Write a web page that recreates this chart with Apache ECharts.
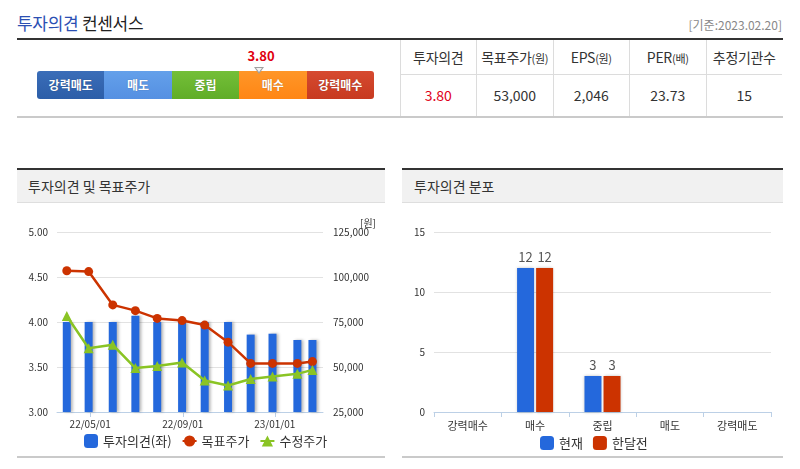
<!DOCTYPE html>
<html><head><meta charset="utf-8">
<script src="https://cdn.jsdelivr.net/npm/echarts@6/dist/echarts.min.js"></script>
<style>
body{margin:0;width:800px;height:469px;position:relative;background:#fff;font-family:"Noto Sans CJK KR","Noto Sans",sans-serif;overflow:hidden;color:#333}
.abs{position:absolute}
#title{left:17px;top:10px;font-size:17px;line-height:26px;color:#222;letter-spacing:-0.3px}
#title .b{color:#2b4fb3}
#basis{right:18px;top:16px;font-size:12px;color:#888}
#topline{left:17px;top:38px;width:766px;height:2px;background:#333}
#botline{left:17px;top:116px;width:766px;height:2px;background:#cacaca}
.seg{position:absolute;top:71px;height:28px;line-height:28px;text-align:center;color:#fff;font-size:12px;font-weight:bold;text-shadow:0 0 1px rgba(0,0,0,.35)}
#score{font-size:13px;font-weight:bold;color:#e00010;top:46px}
#tri{top:67px;width:0;height:0;border-left:5px solid transparent;border-right:5px solid transparent;border-top:7px solid #a0a0a0}
#tri2{top:68px;width:0;height:0;border-left:3px solid transparent;border-right:3px solid transparent;border-top:4px solid #f4f4f4}
.cell{position:absolute;text-align:center;border-left:1px solid #dcdcdc;box-sizing:border-box}
.hd{top:40px;height:35px;line-height:35px;font-size:14px;color:#333;border-bottom:1px solid #dcdcdc;letter-spacing:-0.3px}
.hd small{font-size:11px}
.vl{top:75px;height:41px;line-height:41px;font-size:14px;color:#333}
.phead{top:168px;height:35px;background:#f1f1f1;border-top:2px solid #333;border-bottom:1px solid #dedede;box-sizing:border-box;font-size:14px;line-height:33px;color:#333;padding-left:11px}
.pbot{top:456px;height:2px;background:#cacaca}
</style></head>
<body>
<div id="title" class="abs"><span class="b">투자의견</span> 컨센서스</div>
<div id="basis" class="abs">[기준:2023.02.20]</div>
<div id="topline" class="abs"></div>
<div id="bar"></div>
<div id="table"></div>
<div id="botline" class="abs"></div>

<div class="abs phead" style="left:17px;width:368px">투자의견 및 목표주가</div>
<div class="abs phead" style="left:402px;width:381px;padding-left:12px">투자의견 분포</div>
<div id="c1" class="abs" style="left:17px;top:203px;width:368px;height:253px"></div>
<div id="c2" class="abs" style="left:402px;top:203px;width:381px;height:253px"></div>
<div class="abs pbot" style="left:17px;width:368px"></div>
<div class="abs pbot" style="left:402px;width:381px"></div>

<script>
// ---- data ----
const opinionLabels = ['강력매도','매도','중립','매수','강력매수'];
const opinionColors = [['#3a6db8','#2c5ea8'],['#64a0ea','#5590e2'],['#74bf38','#60ad28'],['#ff9628','#ff8614'],['#d64a30','#c73a20']];
const consensusScore = 3.80;
const tableHeaders = ['투자의견','목표주가<small>(원)</small>','EPS<small>(원)</small>','PER<small>(배)</small>','추정기관수'];
const tableValues = ['3.80','53,000','2,046','23.73','15'];

const dates = ['2022-03-31','2022-04-29','2022-05-31','2022-06-30','2022-07-29','2022-08-31','2022-09-30','2022-10-31','2022-11-30','2022-12-29','2023-01-31','2023-02-20'];
const opinionScores = [4.00,4.00,4.00,4.07,4.00,4.00,4.00,4.00,3.86,3.87,3.80,3.80];
const targetPrices = [103500,103000,84500,81300,77000,75800,73300,63800,52000,52000,52000,53000];
const adjPrices = [78300,60400,62300,49400,50600,52500,42500,39700,43300,44700,46200,48400];
const xTickDates = ['2022-05-01','2022-09-01','2023-01-01'];
const xRange = ['2022-03-18','2023-03-06'];

const distCategories = ['강력매수','매수','중립','매도','강력매도'];
const distCurrent = [0,12,3,0,0];
const distMonthAgo = [0,12,3,0,0];

// ---- consensus bar (HTML) ----
const barLeft = 37, segW = 67.4;
let h = '';
opinionLabels.forEach((l,i)=>{
  const r = i===0 ? 'border-radius:3px 0 0 3px;' : (i===4 ? 'border-radius:0 3px 3px 0;' : '');
  h += `<div class="seg" style="left:${barLeft+i*segW}px;width:${segW}px;background:linear-gradient(${opinionColors[i][0]},${opinionColors[i][1]});${r}">${l}</div>`;
});
const mx = barLeft + segW*(consensusScore-1) + segW/2;
h += `<div id="score" class="abs" style="left:${mx-12}px">${consensusScore.toFixed(2)}</div>`;
h += `<div id="tri" class="abs" style="left:${mx-5}px"></div><div id="tri2" class="abs" style="left:${mx-3}px"></div>`;
document.getElementById('bar').innerHTML = h;

let t = '';
const colW = 76.5, tLeft = 399.5;
tableHeaders.forEach((hd,i)=>{
  t += `<div class="cell hd" style="left:${tLeft+i*colW}px;width:${colW}px">${hd}</div>`;
  t += `<div class="cell vl" style="left:${tLeft+i*colW}px;width:${colW}px;${i===0?'color:#e0001b':''}">${tableValues[i]}</div>`;
});
document.getElementById('table').innerHTML = t;

// ---- charts ----
const FF = '"Noto Sans CJK KR","Noto Sans",sans-serif';
const axisBlue = '#bcd0e6';
const ts = d => Date.UTC(+d.slice(0,4), +d.slice(5,7)-1, +d.slice(8,10));
const tickVals = xTickDates.map(ts);
const fmtDate = v => {const d=new Date(v);const p=n=>String(n).padStart(2,'0');return p(d.getUTCFullYear()%100)+'/'+p(d.getUTCMonth()+1)+'/'+p(d.getUTCDate());};

const c1 = echarts.init(document.getElementById('c1'));
c1.setOption({
  animation:false,
  textStyle:{fontFamily:FF},
  title:{text:'[원]', right:4, top:10, textStyle:{fontSize:10,color:'#333',fontWeight:'normal',fontFamily:FF}},
  legend:{left:62, top:226, itemWidth:14, itemHeight:14, itemGap:10,
    textStyle:{fontSize:13,color:'#333'},
    data:[{name:'투자의견(좌)',icon:'roundRect'},{name:'목표주가'},{name:'수정주가'}]},
  grid:{left:40,right:62,top:29,bottom:44},
  xAxis:{type:'value', min:ts(xRange[0]), max:ts(xRange[1]), scale:true,
    splitLine:{show:false},
    axisLine:{lineStyle:{color:axisBlue}},
    axisTick:{show:true, customValues:tickVals, length:5, lineStyle:{color:axisBlue}},
    axisLabel:{customValues:tickVals, fontSize:10, color:'#333', margin:7, formatter:fmtDate}},
  yAxis:[
    {type:'value',min:3,max:5,interval:0.5,
      axisLine:{show:false},axisTick:{show:false},
      axisLabel:{formatter:v=>v.toFixed(2),fontSize:10,color:'#333',margin:9},
      splitLine:{lineStyle:{color:'#e2e2e2'}}},
    {type:'value',min:25000,max:125000,interval:25000,
      axisLine:{show:false},axisTick:{show:false},
      axisLabel:{formatter:v=>v.toLocaleString('en-US'),fontSize:10,color:'#333',margin:10},
      splitLine:{show:false}}
  ],
  series:[
    {type:'bar',name:'투자의견(좌)',data:dates.map((d,i)=>[ts(d),opinionScores[i]]),barWidth:8,
      itemStyle:{color:'#2468dc',shadowColor:'rgba(0,0,0,0.28)',shadowBlur:3,shadowOffsetX:2}},
    {type:'line',name:'목표주가',yAxisIndex:1,data:dates.map((d,i)=>[ts(d),targetPrices[i]]),
      symbol:'circle',symbolSize:9,lineStyle:{width:2.5,color:'#cc3300'},itemStyle:{color:'#cc3300'}},
    {type:'line',name:'수정주가',yAxisIndex:1,data:dates.map((d,i)=>[ts(d),adjPrices[i]]),
      symbol:'triangle',symbolSize:10,lineStyle:{width:2.5,color:'#8ac424'},itemStyle:{color:'#8ac424'}}
  ]
});

const c2 = echarts.init(document.getElementById('c2'));
const lbl = {show:true,position:'top',fontSize:13,color:'#555',distance:4,formatter:p=>p.value===0?'':String(p.value)};
c2.setOption({
  animation:false,
  textStyle:{fontFamily:FF},
  legend:{left:133,top:228,itemWidth:14,itemHeight:14,itemGap:10,textStyle:{fontSize:13,color:'#333'},
    data:[{name:'현재',icon:'roundRect'},{name:'한달전',icon:'roundRect'}]},
  grid:{left:32,right:12,top:29,bottom:44},
  xAxis:{type:'category',data:distCategories,
    axisLine:{lineStyle:{color:axisBlue}},
    axisTick:{show:true,length:5,lineStyle:{color:axisBlue}},
    axisLabel:{fontSize:11,color:'#333',margin:8}},
  yAxis:{type:'value',min:0,max:15,interval:5,
    axisLine:{show:false},axisTick:{show:false},
    axisLabel:{fontSize:10,color:'#333',margin:9},
    splitLine:{lineStyle:{color:'#e2e2e2'}}},
  series:[
    {type:'bar',name:'현재',data:distCurrent,barWidth:17,barGap:'12%',label:lbl,
      itemStyle:{color:'#2468dc',shadowColor:'rgba(0,0,0,0.25)',shadowBlur:3}},
    {type:'bar',name:'한달전',data:distMonthAgo,barWidth:17,label:lbl,
      itemStyle:{color:'#cc3300',shadowColor:'rgba(0,0,0,0.25)',shadowBlur:3}}
  ]
});
</script>
</body></html>
